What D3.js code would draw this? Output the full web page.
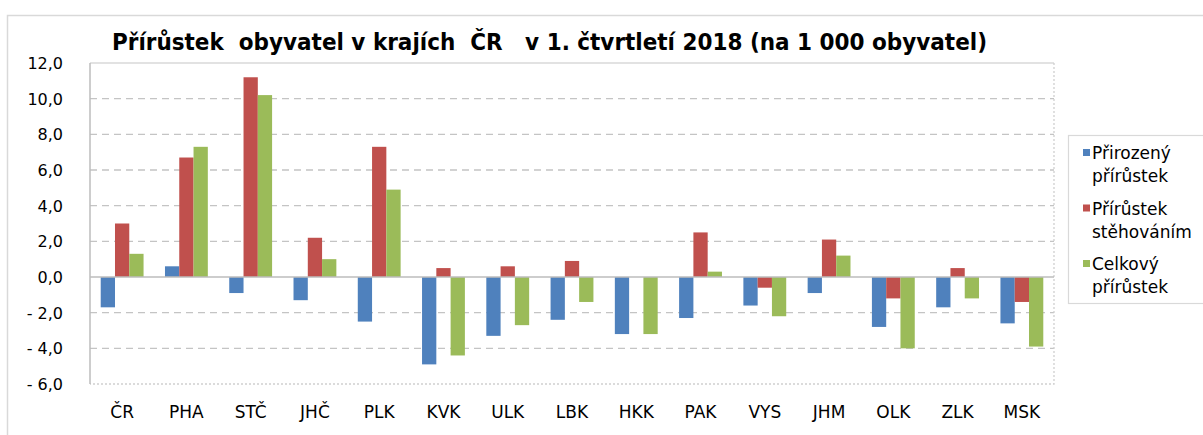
<!DOCTYPE html>
<html>
<head>
<meta charset="utf-8">
<script src="https://cdn.jsdelivr.net/npm/d3@7"></script>
<style>
  html, body { margin: 0; padding: 0; background: #fff; }
  svg { display: block; }
  text { font-family: "DejaVu Sans", Verdana, sans-serif; fill: #000; }
</style>
</head>
<body>
<div id="chart"></div>
<script>
const title = "Přírůstek  obyvatel v krajích  ČR   v 1. čtvrtletí 2018 (na 1 000 obyvatel)";
const categories = ["ČR","PHA","STČ","JHČ","PLK","KVK","ULK","LBK","HKK","PAK","VYS","JHM","OLK","ZLK","MSK"];
const seriesNames = ["Přirozený přírůstek", "Přírůstek stěhováním", "Celkový přírůstek"];
const legendLines = [["Přirozený", "přírůstek"], ["Přírůstek", "stěhováním"], ["Celkový", "přírůstek"]];
const natural   = [-1.7, 0.6, -0.9, -1.3, -2.5, -4.9, -3.3, -2.4, -3.2, -2.3, -1.6, -0.9, -2.8, -1.7, -2.6];
const migration = [ 3.0, 6.7, 11.2,  2.2,  7.3,  0.5,  0.6,  0.9,  0.0,  2.5, -0.6,  2.1, -1.2,  0.5, -1.4];
const total     = [ 1.3, 7.3, 10.2,  1.0,  4.9, -4.4, -2.7, -1.4, -3.2,  0.3, -2.2,  1.2, -4.0, -1.2, -3.9];
const yTicks = [-6, -4, -2, 0, 2, 4, 6, 8, 10, 12];
const colors = ["#4F81BD", "#C0504D", "#9BBB59"];

const W = 1203, H = 435;
const plot = { left: 90, right: 1054, top: 63, bottom: 384 };

const svg = d3.select("#chart").append("svg").attr("width", W).attr("height", H);
svg.append("rect").attr("width", W).attr("height", H).attr("fill", "#fff");

// outer chart border
svg.append("rect").attr("x", 7.5).attr("y", 15.5).attr("width", 1240).attr("height", 460)
  .attr("fill", "none").attr("stroke", "#D9D9D9").attr("stroke-width", 1.5);

const y = d3.scaleLinear().domain([-6, 12]).range([plot.bottom, plot.top]);
const x0 = d3.scaleBand().domain(categories).range([plot.left, plot.right]).padding(0);
const x1 = d3.scaleBand().domain(seriesNames).range([0, x0.bandwidth()]).paddingInner(0).paddingOuter(0.75);

// gridlines
const grid = svg.append("g");
grid.selectAll("line").data(yTicks.filter(t => t !== 0 && t !== 12 && t !== -6)).join("line")
  .attr("x1", plot.left).attr("x2", plot.right)
  .attr("y1", d => y(d)).attr("y2", d => y(d))
  .attr("stroke", "#C4C4C4").attr("stroke-width", 1.3).attr("stroke-dasharray", "7,5");

// plot border (top solid, right & bottom dotted)
svg.append("line").attr("x1", plot.left).attr("x2", plot.right).attr("y1", y(12)).attr("y2", y(12))
  .attr("stroke", "#D9D9D9").attr("stroke-width", 1.3);
svg.append("path")
  .attr("d", `M${plot.right},${y(12)}V${y(-6)}H${plot.left}`)
  .attr("fill", "none").attr("stroke", "#CFCFCF").attr("stroke-width", 1.3).attr("stroke-dasharray", "2,2");

// bars
const seriesData = [natural, migration, total];
const groups = svg.append("g");
seriesData.forEach((vals, si) => {
  groups.append("g").selectAll("rect").data(vals.map((v, i) => ({ c: categories[i], v }))).join("rect")
    .attr("x", d => x0(d.c) + x1(seriesNames[si]))
    .attr("width", x1.bandwidth())
    .attr("y", d => y(Math.max(0, d.v)))
    .attr("height", d => Math.abs(y(d.v) - y(0)))
    .attr("fill", colors[si]);
});

// zero line and y axis line
svg.append("line").attr("x1", plot.left).attr("x2", plot.right).attr("y1", y(0)).attr("y2", y(0))
  .attr("stroke", "#BDBDBD").attr("stroke-width", 1.5);
svg.append("line").attr("x1", plot.left).attr("x2", plot.left).attr("y1", y(12)).attr("y2", y(-6))
  .attr("stroke", "#BDBDBD").attr("stroke-width", 1.5);

// y labels
const fmt = v => (v < 0 ? "- " + d3.format(".1f")(-v) : d3.format(".1f")(v)).replace(".", ",");
svg.append("g").selectAll("text").data(yTicks).join("text")
  .attr("x", 63).attr("y", d => y(d)).attr("dy", "0.38em")
  .attr("text-anchor", "end").attr("font-size", 16)
  .style("white-space", "pre")
  .text(fmt);

// category labels
svg.append("g").selectAll("text").data(categories).join("text")
  .attr("x", d => x0(d) + x0.bandwidth() / 2).attr("y", 418)
  .attr("text-anchor", "middle").attr("font-size", 17)
  .text(d => d);

// title
const t = svg.append("text").attr("x", 112).attr("y", 50)
  .attr("font-size", 23).attr("font-weight", "bold")
  .style("white-space", "pre").text(title);
const tl = t.node().getComputedTextLength();
if (Math.abs(tl - 875) > 8) t.attr("textLength", 875).attr("lengthAdjust", "spacingAndGlyphs");

// legend
svg.append("rect").attr("x", 1068.5).attr("y", 135.5).attr("width", 160).attr("height", 168)
  .attr("fill", "#fff").attr("stroke", "#D9D9D9").attr("stroke-width", 1.2);
const leg = svg.append("g").selectAll("g").data(seriesNames).join("g")
  .attr("transform", (d, i) => `translate(0, ${159 + i * 55.5})`);
leg.append("rect").attr("x", 1083).attr("y", -10).attr("width", 7).attr("height", 7)
  .attr("fill", (d, i) => colors[i]);
leg.each(function(d, i) {
  const g = d3.select(this);
  legendLines[i].forEach((ln, j) => {
    g.append("text").attr("x", 1092).attr("y", j * 23).attr("font-size", 17).text(ln);
  });
});
</script>
</body>
</html>
